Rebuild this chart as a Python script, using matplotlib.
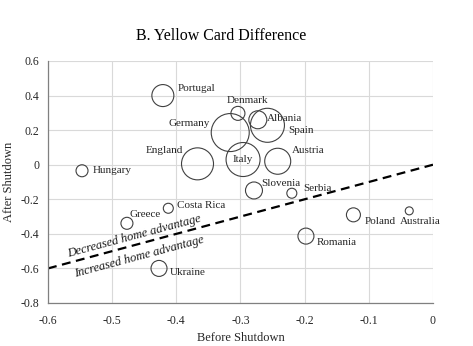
import matplotlib
matplotlib.use("Agg")
import matplotlib.pyplot as plt
import numpy as np

countries = ["Portugal", "Denmark", "Germany", "Albania", "Spain", "England", "Italy",
             "Austria", "Hungary", "Slovenia", "Serbia", "Poland", "Australia",
             "Romania", "Costa Rica", "Greece", "Ukraine"]
before = [-0.421, -0.304, -0.316, -0.273, -0.258, -0.367, -0.296,
          -0.242, -0.547, -0.279, -0.220, -0.124, -0.037,
          -0.198, -0.4125, -0.477, -0.427]
after = [0.40, 0.297, 0.186, 0.26, 0.228, 0.005, 0.03,
         0.02, -0.035, -0.149, -0.165, -0.29, -0.267,
         -0.413, -0.252, -0.339, -0.60]
weights = [121, 49, 361, 81, 289, 256, 289,
           169, 36, 72, 25, 49, 16,
           64, 25, 36, 64]

xticks = [-0.6, -0.5, -0.4, -0.3, -0.2, -0.1, 0]
yticks = [-0.8, -0.6, -0.4, -0.2, 0, 0.2, 0.4, 0.6]

# label placement (offset in pixels, horizontal alignment)
label_style = {
    "Portugal": (14.7, 7, "left"),
    "Denmark": (10, 13.3, "center"),
    "Germany": (-20, 9, "right"),
    "Albania": (9, 1, "left"),
    "Spain": (21, -5, "left"),
    "England": (-14.4, 13, "right"),
    "Italy": (0, 0, "center"),
    "Austria": (13.7, 11, "left"),
    "Hungary": (10.6, 0, "left"),
    "Slovenia": (7.7, 7.4, "left"),
    "Serbia": (11, 5, "left"),
    "Poland": (11, -6.7, "left"),
    "Australia": (-9.3, -10.7, "left"),
    "Romania": (10.7, -6, "left"),
    "Costa Rica": (8.4, 3, "left"),
    "Greece": (2.6, 9, "left"),
    "Ukraine": (11, -4, "left"),
}

plt.rcParams['font.family'] = ['Liberation Serif', 'DejaVu Serif']

fig = plt.figure(figsize=(4.73, 3.46), dpi=100)
ax = fig.add_axes([0.1015, 0.1243, 0.8139, 0.6994])

s = np.array(weights) * (2 * 0.72) ** 2
ax.scatter(before, after, s=s, facecolors='none', edgecolors='#404040', linewidths=0.8, zorder=3)

for c, x, y in zip(countries, before, after):
    dx, dy, ha = label_style[c]
    ax.annotate(c, (x, y), xytext=(dx, dy), textcoords='offset pixels',
                ha=ha, va='center', fontsize=8, color='#262626', zorder=4)

ax.plot([-0.6, 0], [-0.6, 0], color='black', lw=1.6, ls=(0, (4, 2.5)), zorder=2)

ax.text(-0.466, -0.413, "Decreased home advantage", rotation=15, rotation_mode='anchor',
        ha='center', va='center', fontsize=9, style='italic', color='#1a1a1a')
ax.text(-0.458, -0.535, "Increased home advantage", rotation=15, rotation_mode='anchor',
        ha='center', va='center', fontsize=9, style='italic', color='#1a1a1a')

ax.set_xlim(-0.6, 0)
ax.set_ylim(-0.8, 0.6)
ax.set_xticks(xticks)
ax.set_xticklabels(["-0.6", "-0.5", "-0.4", "-0.3", "-0.2", "-0.1", "0"])
ax.set_yticks(yticks)
ax.set_yticklabels(["-0.8", "-0.6", "-0.4", "-0.2", "0", "0.2", "0.4", "0.6"])
ax.grid(True, color='#d9d9d9', lw=0.8, zorder=0)
ax.set_axisbelow(True)
for sp in ['top', 'right']:
    ax.spines[sp].set_visible(False)
for sp in ['left', 'bottom']:
    ax.spines[sp].set_color('#808080')
    ax.spines[sp].set_linewidth(0.9)
ax.tick_params(length=0, labelsize=8.5, colors='#262626')
ax.tick_params(axis='x', pad=9)
ax.tick_params(axis='y', pad=6)

ax.set_xlabel("Before Shutdown", fontsize=9, color='#262626', labelpad=3)
ax.set_ylabel("After Shutdown", fontsize=9, color='#262626', labelpad=4)
fig.text(221.5 / 473, 1 - 36 / 346, "B. Yellow Card Difference", fontsize=11.5,
         color='black', ha='center', va='center')

fig.savefig("out.png", dpi=100)
